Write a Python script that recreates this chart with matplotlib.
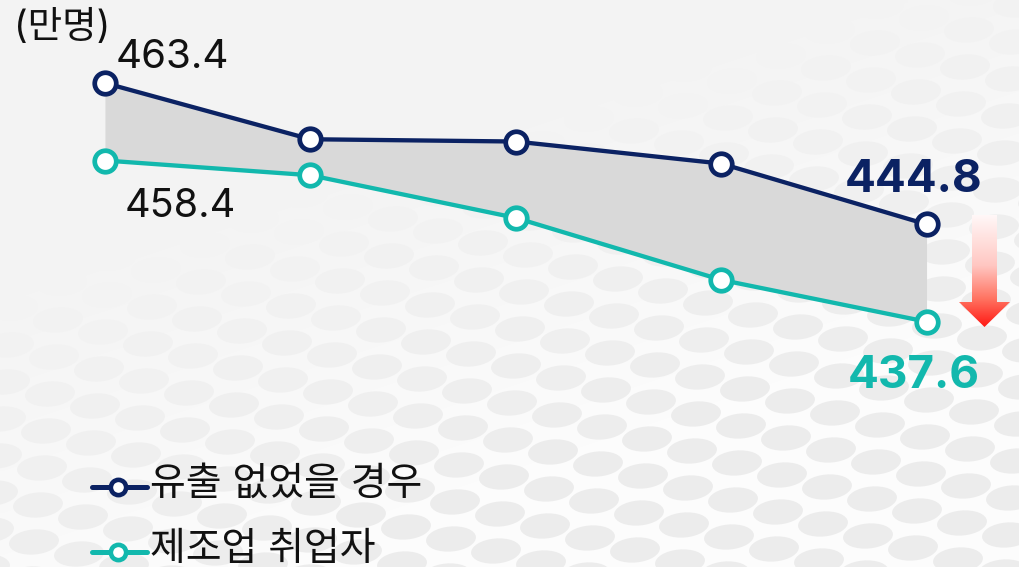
import numpy as np
import matplotlib.pyplot as plt
from matplotlib.collections import EllipseCollection
from matplotlib.colors import LinearSegmentedColormap
from matplotlib.patches import Polygon

plt.rcParams['font.family'] = ['Inter', 'Noto Sans CJK KR']

# ----- data (5 points per series, values in 만명)
x_idx = [0, 1, 2, 3, 4]
no_outflow = [463.4, 456.0, 455.7, 452.8, 444.8]      # 유출 없었을 경우
manufacturing = [458.4, 456.5, 451.0, 443.0, 437.6]   # 제조업 취업자
series_names = ['유출 없었을 경우', '제조업 취업자']
unit_label = '(만명)'

NAVY = '#0b2263'
TEAL = '#12b8ad'
BAND = '#d9d9d9'

W, H = 1020, 567
fig = plt.figure(figsize=(W / 100, H / 100), dpi=100)

# ----- decoration layer, pixel coordinates (origin top-left)
bg = fig.add_axes([0, 0, 1, 1])
bg.set_autoscale_on(False)
bg.set_xlim(0, W)
bg.set_ylim(H, 0)
bg.axis('off')

def pattern_weight(px, py):
    return np.clip((0.6 * px / W + py / H - 0.5) * 1.5, 0, 1)

def base_shade(w):
    return 0.955 + 0.035 * w

gx, gy = np.meshgrid(np.linspace(0, W, 204), np.linspace(0, H, 114))
shade = base_shade(pattern_weight(gx, gy))
bg.imshow(np.dstack([shade] * 3), extent=(0, W, H, 0), aspect='auto',
          interpolation='bilinear', zorder=0)

# soft honeycomb-ish dots, mostly in the lower half
centers = []
for i in range(-10, 30):
    for j in range(-12, 20):
        cx = i * 45 - j * 4
        cy = i * 12 + j * 37
        if -40 < cx < W + 40 and -40 < cy < H + 40:
            centers.append((cx, cy))
centers = np.array(centers, dtype=float)
wts = pattern_weight(centers[:, 0], centers[:, 1])
keep = wts > 0.02
centers, wts = centers[keep], wts[keep]
tones = base_shade(wts) - 0.065 * wts
dots = EllipseCollection(np.full(len(centers), 50), np.full(len(centers), 25),
                         np.full(len(centers), -5), units='xy',
                         offsets=centers, offset_transform=bg.transData,
                         facecolors=np.column_stack([tones, tones, tones]),
                         edgecolors='none', zorder=1)
bg.add_collection(dots)

# red gradient arrow pointing down
arrow_pts = [(972, 215), (997, 215), (997, 302), (1010, 302),
             (984.5, 327), (959, 302), (972, 302)]
arrow = Polygon(arrow_pts, closed=True, facecolor='none', edgecolor='none')
bg.add_patch(arrow)
red_cmap = LinearSegmentedColormap.from_list(
    'redfade', [(0, (1, 0.97, 0.97)), (0.45, (1, 0.78, 0.76)),
                (0.75, (1, 0.45, 0.38)), (1, (1, 0.1, 0.08))])
grad = np.linspace(0, 1, 200).reshape(-1, 1)
img = bg.imshow(grad, cmap=red_cmap, extent=(959, 1010, 327, 215),
                aspect='auto', zorder=2)
img.set_clip_path(arrow)

# ----- data layer: two hidden y axes, one per series
ax = fig.add_axes([0, 0, 1, 1])
ax.patch.set_alpha(0)
ax.set_xlim(-0.511, 4.455)
ax.set_ylim(399.69, 474.33)
ax.axis('off')
ax2 = ax.twinx()
ax2.set_ylim(405.95, 479.11)
ax2.axis('off')

disp = ax2.transData.transform(np.column_stack([x_idx, manufacturing]))
teal_on_ax = ax.transData.inverted().transform(disp)[:, 1]
ax.fill_between(x_idx, no_outflow, teal_on_ax, color=BAND, lw=0, zorder=1)

line_kw = dict(lw=3.1, marker='o', ms=15.5, mfc='white', mew=3.4, zorder=3)
ax.plot(x_idx, no_outflow, color=NAVY, mec=NAVY, **line_kw)
ax2.plot(x_idx, manufacturing, color=TEAL, mec=TEAL, **line_kw)

# value labels at the ends
ax.annotate(f'{no_outflow[0]:.1f}', (x_idx[0], no_outflow[0]), xytext=(11, 15),
            textcoords='offset pixels', ha='left', va='baseline',
            fontsize=29, color='#111111')
ax2.annotate(f'{manufacturing[0]:.1f}', (x_idx[0], manufacturing[0]), xytext=(20, -56),
             textcoords='offset pixels', ha='left', va='baseline',
             fontsize=28.5, color='#111111')
ax.annotate(f'{no_outflow[-1]:.1f}', (x_idx[-1], no_outflow[-1]), xytext=(-13, 32),
            textcoords='offset pixels', ha='center', va='baseline',
            fontsize=33, fontweight='bold', color=NAVY)
ax2.annotate(f'{manufacturing[-1]:.1f}', (x_idx[-1], manufacturing[-1]), xytext=(-13, -66),
             textcoords='offset pixels', ha='center', va='baseline',
             fontsize=33, fontweight='bold', color=TEAL)

# unit label
bg.text(14, 38, unit_label, ha='left', va='baseline', fontsize=27, color='#111111',
        zorder=5)

# legend drawn by hand
for k, (name, col) in enumerate(zip(series_names, [NAVY, TEAL])):
    ly = 487 + k * 65
    bg.plot([92, 147], [ly, ly], color=col, lw=3.6, solid_capstyle='round', zorder=5)
    bg.plot([118.5], [ly], marker='o', ms=11, mfc='white', mec=col, mew=3.3, zorder=6)
    bg.text(150, ly + 8, name, ha='left', va='baseline', fontsize=28,
            color='#111111', zorder=6)

fig.savefig('out.png', dpi=100)
